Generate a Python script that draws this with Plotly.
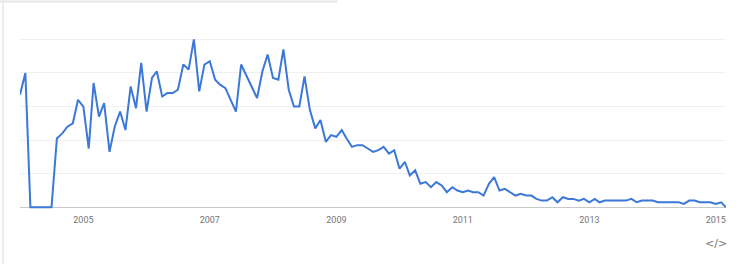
import plotly.graph_objects as go
import pandas as pd

# Monthly interest, Jan 2004 - Mar 2015
start_month = "2004-01-01"
values = [
    67, 80, 0, 0, 0, 0, 0, 41, 44, 48, 50, 64,          # 2004
    60, 35, 74, 54, 62, 33, 48, 57, 46, 72, 59, 86,     # 2005
    57, 77, 81, 66, 68, 68, 70, 85, 82, 100, 69, 85,    # 2006
    87, 76, 73, 71, 64, 57, 85, 78, 71, 65, 81, 91,     # 2007
    77, 76, 94, 70, 60, 60, 78, 58, 47, 52, 39, 43,     # 2008
    42, 46, 41, 36, 37, 37, 35, 33, 34, 36, 32, 34,     # 2009
    23, 27, 19, 22, 14, 15, 12, 15, 13, 9, 12, 10,      # 2010
    9, 10, 9, 9, 7, 14, 18, 10, 11, 9, 7, 8,            # 2011
    7, 7, 5, 4, 4, 6, 3, 6, 5, 5, 4, 5,                 # 2012
    3, 5, 3, 4, 4, 4, 4, 4, 5, 3, 4, 4,                 # 2013
    4, 3, 3, 3, 3, 3, 2, 4, 4, 3, 3, 3,                 # 2014
    2, 3, 0,                                            # 2015
]
dates = pd.date_range(start_month, periods=len(values), freq="MS")

tick_years = ["2005", "2007", "2009", "2011", "2013", "2015"]
grid_values = [20, 40, 60, 80, 100]

fig = go.Figure()
fig.add_trace(go.Scatter(
    x=dates, y=values, mode="lines",
    line=dict(color="#3b78d8", width=2),
    hoverinfo="skip", showlegend=False,
))

fig.update_layout(
    width=750, height=264,
    margin=dict(l=20, r=24, t=36, b=55),
    paper_bgcolor="white", plot_bgcolor="white",
    showlegend=False,
    xaxis=dict(
        range=[dates[0], dates[-1]],
        tickvals=[pd.Timestamp(y + "-01-01") for y in tick_years],
        ticktext=tick_years,
        showgrid=False, zeroline=False, showline=False,
        ticks="", ticklabelstandoff=4,
        tickfont=dict(family="Roboto, Arial, sans-serif", size=9, color="#757575"),
    ),
    yaxis=dict(
        range=[-1, 102],
        tickvals=grid_values,
        showticklabels=False,
        showgrid=True, gridcolor="#f0f0f0", gridwidth=1,
        zeroline=True, zerolinecolor="#c8c8c8", zerolinewidth=1,
        showline=False, ticks="",
    ),
    shapes=[
        dict(type="line", xref="paper", yref="paper", x0=-0.04, x1=0.45, y0=1.2, y1=1.2,
             line=dict(color="#e6e6e6", width=2)),
        dict(type="line", xref="paper", yref="paper", x0=-0.024, x1=-0.024, y0=-0.33, y1=1.21,
             line=dict(color="#ececec", width=2)),
    ],
    annotations=[
        dict(text="&lt;/&gt;", xref="paper", yref="paper", x=0.986, y=-0.2,
             showarrow=False, xanchor="center", yanchor="middle",
             font=dict(family="DejaVu Sans, sans-serif", size=11, color="#757575")),
    ],
)

fig.write_html("out.html")
